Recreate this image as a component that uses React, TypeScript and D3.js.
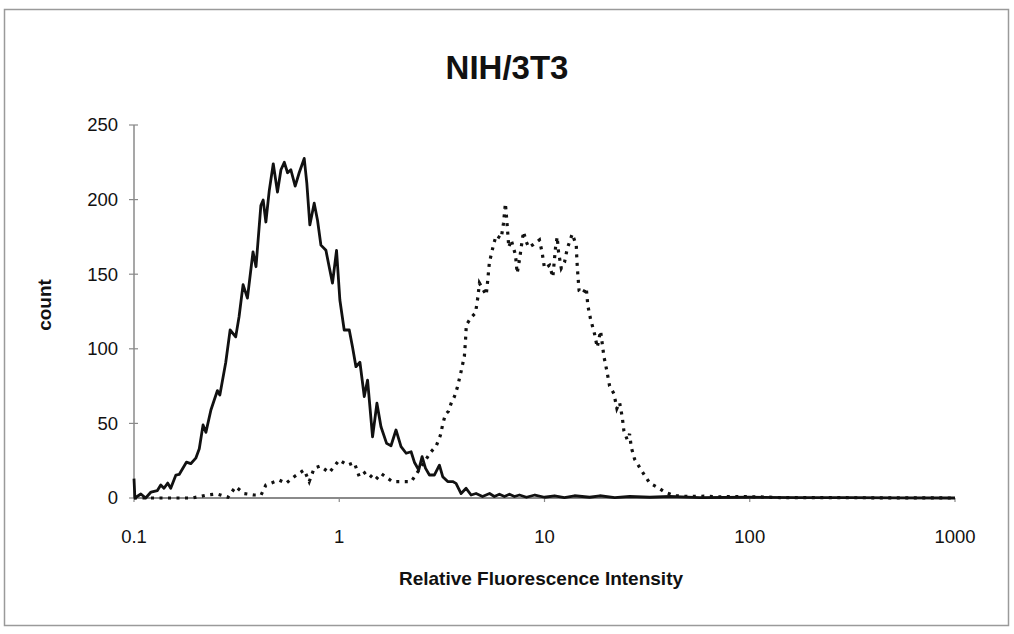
import React, { useEffect } from "react";
import * as d3 from "d3";

// Solid histogram (control): relative fluorescence intensity vs count
const solidX = [0.1, 0.101, 0.108, 0.114, 0.121, 0.13, 0.135, 0.14, 0.146, 0.151, 0.16, 0.166, 0.18, 0.189, 0.2, 0.208, 0.217, 0.224, 0.237, 0.246, 0.255, 0.262, 0.28, 0.294, 0.313, 0.325, 0.34, 0.357, 0.38, 0.393, 0.415, 0.426, 0.439, 0.456, 0.477, 0.5, 0.52, 0.54, 0.56, 0.581, 0.61, 0.638, 0.675, 0.695, 0.719, 0.755, 0.784, 0.814, 0.861, 0.893, 0.927, 0.97, 1.007, 1.057, 1.119, 1.161, 1.206, 1.261, 1.324, 1.374, 1.453, 1.526, 1.597, 1.701, 1.787, 1.89, 2.0, 2.118, 2.239, 2.323, 2.44, 2.533, 2.63, 2.75, 2.906, 3.076, 3.192, 3.376, 3.569, 3.706, 3.923, 4.15, 4.389, 4.641, 4.99, 5.4, 5.7, 6.03, 6.38, 6.75, 7.14, 7.55, 8.17, 8.98, 10.0, 11.2, 12.5, 14.0, 16.6, 18.6, 22.0, 26.0, 32.6, 40.8, 57, 99, 175, 306, 535, 1000];
const solidY = [13, 0, 2.7, 0, 4, 5, 8.7, 6.5, 10, 6.5, 15.4, 15.8, 24, 23, 26.7, 33, 49, 44, 59, 65.7, 72, 69, 91, 112.6, 108, 121.5, 143, 134, 165, 155, 196, 199.7, 185, 206, 224, 205, 220, 225, 218, 220, 209, 218, 227.6, 211, 183, 197.6, 186, 169.5, 166, 155, 144, 166, 132.7, 112.6, 112.6, 101, 88, 91, 68, 79, 41, 63.5, 47.8, 36.6, 35, 45.6, 34.4, 30, 31, 24, 18.8, 27.7, 20, 15.4, 15.4, 22, 14.3, 11, 11, 9.8, 3, 6.5, 2, 3, 1, 3, 1, 2.5, 1, 2.5, 1, 2, 0.5, 2, 0.5, 1.5, 0.3, 1.5, 0.5, 1.5, 0.3, 1, 0.5, 1, 0.3, 0.5, 0.3, 0.2, 0.1, 0];

// Dotted histogram (stained)
const dottedX = [0.1, 0.137, 0.162, 0.192, 0.227, 0.254, 0.287, 0.313, 0.344, 0.385, 0.416, 0.439, 0.487, 0.51, 0.55, 0.603, 0.675, 0.714, 0.755, 0.808, 0.894, 1.0, 1.098, 1.184, 1.252, 1.35, 1.498, 1.597, 1.814, 2.029, 2.245, 2.802, 2.97, 3.11, 3.2, 3.29, 3.4, 3.52, 3.64, 3.76, 3.92, 4.07, 4.12, 4.16, 4.39, 4.61, 4.73, 4.82, 5.2, 5.29, 5.39, 5.64, 5.81, 6.15, 6.31, 6.45, 6.56, 6.7, 6.88, 7.22, 7.36, 7.55, 7.7, 7.9, 8.14, 8.38, 8.84, 9.45, 9.75, 10.0, 10.58, 10.98, 11.32, 11.53, 11.7, 12.07, 12.52, 12.9, 13.65, 14.28, 14.38, 14.54, 14.74, 15.38, 15.97, 16.26, 16.76, 17.53, 18.07, 18.76, 19.47, 20.14, 20.76, 21.78, 22.53, 23.22, 23.93, 24.37, 25.31, 25.97, 26.47, 27.48, 29.83, 32.52, 35.7, 38.49, 43.06, 50.97, 60.33, 71.4, 84.51, 108.2, 140.1, 1000];
const dottedY = [0, 0, 0, 0, 2, 2.7, 0.5, 7.6, 3, 2, 2, 8.7, 11, 12, 9.8, 14.3, 18.8, 11, 20, 21.4, 17, 25.5, 22, 23.7, 14.3, 17.6, 12, 16.5, 11, 11, 11, 31, 35, 42, 50, 56, 58, 64, 68, 74, 84.6, 95, 105, 116, 121, 124, 134, 144, 136, 146, 158, 169.5, 176, 174, 184, 197.5, 185, 168, 173, 163, 150.6, 159.5, 168, 178.5, 172, 168, 170, 173, 164, 154, 156, 148, 168, 175, 165, 154, 158, 167, 177, 169.5, 159.5, 149.5, 139, 137, 141, 129, 120, 110, 101, 112, 95, 85, 75, 70, 60, 64, 54, 45, 39, 43, 34, 26, 18, 10, 7, 4, 1.5, 1, 1.2, 0.8, 1, 0.8, 0.3, 0];

const xTickValues = [0.1, 1, 10, 100, 1000];
const xTickLabels = ["0.1", "1", "10", "100", "1000"];
const yTickValues = [0, 50, 100, 150, 200, 250];

const title = "NIH/3T3";
const xTitle = "Relative Fluorescence Intensity";
const yTitle = "count";

export default function App() {
  useEffect(() => {
    document.body.style.margin = "0";
  }, []);

  const W = 1014;
  const H = 634;
  const x = d3.scaleLog().domain([0.1, 1000]).range([134, 955]);
  const y = d3.scaleLinear().domain([0, 250]).range([498, 125]);

  const line = d3
    .line<[number, number]>()
    .x((d) => x(d[0]))
    .y((d) => y(d[1]));

  const solidPts: [number, number][] = solidX.map((v, i) => [v, solidY[i]]);
  const dottedPts: [number, number][] = dottedX.map((v, i) => [v, dottedY[i]]);

  const font = "'Liberation Sans', Arial, sans-serif";
  const axisColor = "#8a8a8a";

  return (
    <svg
      width={W}
      height={H}
      style={{ position: "absolute", left: 0, top: 0, background: "#fff" }}
      fontFamily={font}
    >
      <rect x={0} y={0} width={W} height={H} fill="#fff" />
      {/* outer frame */}
      <rect x={4.5} y={9.5} width={1004} height={616} fill="none" stroke="#9a9a9a" strokeWidth={1.5} />

      {/* title */}
      <text x={507} y={79} textAnchor="middle" fontSize={33} fontWeight="bold" fill="#111">
        {title}
      </text>

      {/* y axis */}
      <line x1={x(0.1)} x2={x(0.1)} y1={y(250)} y2={y(0)} stroke={axisColor} strokeWidth={1.5} />
      {yTickValues.map((t) => (
        <g key={"y" + t}>
          <line x1={x(0.1) - 5} x2={x(0.1) + 4} y1={y(t)} y2={y(t)} stroke={axisColor} strokeWidth={1.2} />
          <text x={118} y={y(t)} dy="0.35em" textAnchor="end" fontSize={18.5} fill="#111">
            {t}
          </text>
        </g>
      ))}

      {/* x axis */}
      <line x1={x(0.1)} x2={x(1000)} y1={y(0)} y2={y(0)} stroke={axisColor} strokeWidth={2} />
      {xTickValues.map((t, i) => (
        <g key={"x" + t}>
          <line x1={x(t)} x2={x(t)} y1={y(0)} y2={y(0) + 4} stroke={axisColor} strokeWidth={1.2} />
          <text x={x(t)} y={y(0) + 45} textAnchor="middle" fontSize={18.5} fill="#111">
            {xTickLabels[i]}
          </text>
        </g>
      ))}

      {/* data */}
      <path d={line(dottedPts) || ""} fill="none" stroke="#111" strokeWidth={3.2} strokeDasharray="3 5.5" />
      <path d={line(solidPts) || ""} fill="none" stroke="#111" strokeWidth={2.8} strokeLinejoin="round" />

      {/* axis titles */}
      <text x={541} y={585} textAnchor="middle" fontSize={19} fontWeight="bold" fill="#111">
        {xTitle}
      </text>
      <text
        transform={`translate(51, 305) rotate(-90)`}
        textAnchor="middle"
        fontSize={19}
        fontWeight="bold"
        fill="#111"
      >
        {yTitle}
      </text>
    </svg>
  );
}
